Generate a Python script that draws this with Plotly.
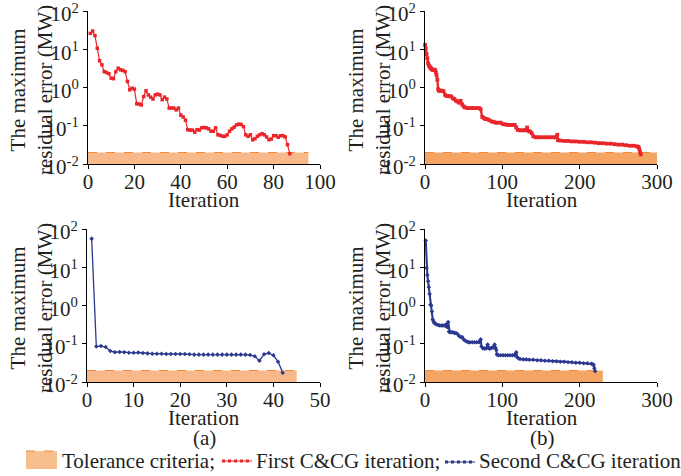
import plotly.graph_objects as go

# ---------------- data ----------------
# (a) first C&CG iteration
iter_a1 = list(range(1, 88))
err_a1 = [26, 30, 22.7, 10.6, 5.0, 3.9, 2.6, 2.45, 2.3, 1.75,
          1.7, 2.6, 3.2, 2.9, 2.8, 2.6, 1.44, 0.87, 0.96, 0.91,
          0.375, 0.37, 0.35, 0.58, 0.82, 0.64, 0.56, 0.5, 0.64, 0.67,
          0.64, 0.48, 0.56, 0.5, 0.29, 0.29, 0.29, 0.26, 0.29, 0.19,
          0.17, 0.14, 0.079, 0.077, 0.077, 0.068, 0.079, 0.077, 0.088, 0.09,
          0.088, 0.083, 0.072, 0.072, 0.088, 0.058, 0.056, 0.053, 0.053, 0.058,
          0.072, 0.083, 0.092, 0.105, 0.11, 0.108, 0.095, 0.058, 0.053, 0.058,
          0.043, 0.046, 0.053, 0.058, 0.062, 0.058, 0.051, 0.043, 0.045, 0.055,
          0.055, 0.05, 0.055, 0.055, 0.051, 0.032, 0.0186]

# (a) second C&CG iteration
iter_a2 = list(range(1, 43))
err_a2 = [56, 0.085, 0.087, 0.082, 0.065, 0.06, 0.061, 0.06, 0.058, 0.058,
          0.059, 0.057, 0.056, 0.055, 0.055, 0.055, 0.054, 0.054, 0.054, 0.054,
          0.054, 0.053, 0.052, 0.052, 0.052, 0.052, 0.052, 0.052, 0.052, 0.052,
          0.052, 0.052, 0.052, 0.052, 0.051, 0.047, 0.036, 0.053, 0.057, 0.05,
          0.034, 0.0175]

# (b) first C&CG iteration
iter_b1 = [0, 1, 2, 3, 4, 5, 6, 7, 8, 9,
           10, 11, 12, 13, 14, 15, 16, 17, 18, 19,
           20, 22, 24, 26, 28, 30, 32, 34, 36, 38,
           40, 42, 44, 46, 48, 50, 52, 55, 58, 61,
           64, 67, 70, 72, 74, 76, 78, 80, 83, 86,
           89, 92, 95, 98, 101, 104, 107, 110, 113, 116,
           118, 120, 123, 126, 129, 131, 132, 134, 136, 138,
           140, 143, 146, 150, 154, 158, 162, 166, 169, 171,
           172, 175, 180, 185, 190, 195, 200, 205, 210, 215,
           220, 225, 230, 235, 240, 245, 250, 255, 260, 265,
           270, 274, 276, 277, 278, 279]
err_b1 = [13, 10.6, 7.5, 5.8, 4.3, 3.8, 3.5, 3.3, 3.1, 3.0,
          2.9, 2.9, 2.9, 2.85, 2.5, 2.1, 1.6, 0.9, 0.83, 0.82,
          0.83, 0.82, 0.8, 0.64, 0.6, 0.6, 0.59, 0.58, 0.52, 0.5,
          0.45, 0.43, 0.4, 0.45, 0.36, 0.32, 0.3, 0.29, 0.29, 0.29,
          0.29, 0.29, 0.29, 0.27, 0.17, 0.16, 0.15, 0.15, 0.14, 0.13,
          0.125, 0.12, 0.12, 0.12, 0.11, 0.108, 0.105, 0.105, 0.105, 0.105,
          0.09, 0.078, 0.076, 0.076, 0.076, 0.078, 0.09, 0.073, 0.07, 0.064,
          0.053, 0.05, 0.05, 0.05, 0.05, 0.05, 0.05, 0.05, 0.05, 0.058,
          0.042, 0.041, 0.04, 0.04, 0.039, 0.039, 0.038, 0.038, 0.037, 0.037,
          0.036, 0.035, 0.035, 0.034, 0.034, 0.033, 0.032, 0.032, 0.031, 0.03,
          0.03, 0.029, 0.028, 0.025, 0.021, 0.0178]

# (b) second C&CG iteration
iter_b2 = [1, 2, 3, 4, 5, 6, 7, 8, 9, 10,
           11, 12, 13, 15, 17, 19, 21, 23, 25, 27,
           28, 29, 30, 31, 32, 34, 36, 38, 40, 42,
           44, 46, 48, 50, 52, 54, 56, 58, 61, 64,
           67, 70, 71, 72, 73, 75, 77, 79, 80, 81,
           82, 83, 84, 86, 88, 89, 90, 91, 92, 93,
           95, 98, 101, 104, 107, 110, 113, 116, 117, 118,
           119, 121, 123, 127, 131, 135, 140, 145, 150, 155,
           160, 165, 170, 175, 180, 185, 190, 195, 200, 205,
           210, 215, 217, 218, 219, 220]
err_b2 = [50, 9.6, 6.3, 4.3, 3.0, 2.0, 1.05, 1.0, 0.7, 0.43,
          0.38, 0.35, 0.34, 0.32, 0.31, 0.3, 0.3, 0.3, 0.3, 0.29,
          0.33, 0.27, 0.37, 0.21, 0.2, 0.2, 0.2, 0.19, 0.19, 0.18,
          0.16, 0.15, 0.15, 0.13, 0.12, 0.115, 0.11, 0.11, 0.11, 0.11,
          0.11, 0.11, 0.12, 0.13, 0.085, 0.075, 0.075, 0.075, 0.08, 0.095,
          0.08, 0.075, 0.075, 0.078, 0.08, 0.085, 0.095, 0.08, 0.07, 0.052,
          0.05, 0.05, 0.05, 0.05, 0.05, 0.05, 0.05, 0.05, 0.055, 0.06,
          0.045, 0.041, 0.04, 0.039, 0.039, 0.038, 0.038, 0.037, 0.037, 0.036,
          0.036, 0.035, 0.035, 0.034, 0.034, 0.033, 0.033, 0.032, 0.032, 0.031,
          0.031, 0.03, 0.029, 0.028, 0.023, 0.019]

assert len(iter_a1) == len(err_a1)
assert len(iter_a2) == len(err_a2)
assert len(iter_b1) == len(err_b1)
assert len(iter_b2) == len(err_b2)

tol_value = 0.02
axis_floor = 0.01
# panel order: (a)-first, (b)-first, (a)-second, (b)-second
tol_extent = [95, 300, 45, 230]
x_max = [100, 300, 50, 300]
x_ticks = [[0, 20, 40, 60, 80, 100], [0, 100, 200, 300],
           [0, 10, 20, 30, 40, 50], [0, 100, 200, 300]]
y_tickvals = [0.01, 0.1, 1, 10, 100]
y_ticktext = ["10<sup>-2</sup>", "10<sup>-1</sup>", "10<sup>0</sup>",
              "10<sup>1</sup>", "10<sup>2</sup>"]

legend_names = ["Tolerance criteria;", "First C&CG iteration;", "Second C&CG iteration"]
panel_labels = ["(a)", "(b)"]

# ---------------- styling ----------------
W, H = 681, 476
FONT = "Liberation Serif, Times New Roman, serif"
TXT = "#231f20"
RED = "#e8262a"
BLUE = "#2b3990"
BAND_L = "#f8b98a"
BAND_R = "#f5a563"
DASH = "#f08a3c"
FS = 21

def px_x(p):
    return p / W

def px_y(p):
    return 1 - p / H

# pixel boxes of the four plot areas: (left, right, top, bottom)
boxes = [(88, 320, 11, 164), (425, 657, 11, 164),
         (87, 320, 229, 382), (425, 657, 229, 382)]

series = [(iter_a1, err_a1, RED, "square", 3.5, 1.2),
          (iter_b1, err_b1, RED, "square", 3.8, 2.3),
          (iter_a2, err_a2, BLUE, "diamond", 3.5, 1.3),
          (iter_b2, err_b2, BLUE, "diamond", 3.5, 2.1)]
band_cols = [BAND_L, BAND_R, BAND_L, BAND_R]

fig = go.Figure()
layout = dict(width=W, height=H, margin=dict(l=0, r=0, t=0, b=0, autoexpand=False),
              paper_bgcolor="white", plot_bgcolor="white",
              showlegend=False, font=dict(family=FONT, size=FS, color=TXT))

for i in range(4):
    n = "" if i == 0 else str(i + 1)
    xa, ya = "x" + n, "y" + n
    # tolerance band
    fig.add_trace(go.Scatter(x=[0, tol_extent[i]], y=[axis_floor, axis_floor],
                             mode="lines", line=dict(width=0, color=band_cols[i]),
                             xaxis=xa, yaxis=ya, hoverinfo="skip"))
    fig.add_trace(go.Scatter(x=[0, tol_extent[i]], y=[tol_value, tol_value],
                             mode="lines", fill="tonexty", fillcolor=band_cols[i],
                             line=dict(width=1, color=DASH, dash="dash"),
                             xaxis=xa, yaxis=ya, name=legend_names[0]))
    xs, ys, col, sym, ms, lw = series[i]
    fig.add_trace(go.Scatter(x=xs, y=ys, mode="lines+markers",
                             line=dict(color=col, width=lw),
                             marker=dict(symbol=sym, size=ms, color=col),
                             xaxis=xa, yaxis=ya, cliponaxis=False))
    l, r, t, b = boxes[i]
    layout["xaxis" + n] = dict(domain=[px_x(l), px_x(r)], range=[0, x_max[i]],
                               anchor=ya, tickvals=x_ticks[i], showgrid=False,
                               zeroline=False, showline=True, linecolor="black",
                               linewidth=1, ticks="outside", ticklen=4, automargin=False,
                               ticklabelstandoff=-5, ticklabeloverflow="allow",
                               tickcolor="black", tickfont=dict(family=FONT, size=FS, color=TXT))
    layout["yaxis" + n] = dict(domain=[px_y(b), px_y(t)], type="log", range=[-2, 2],
                               anchor=xa, tickvals=y_tickvals, ticktext=y_ticktext,
                               showgrid=False, zeroline=False, showline=True,
                               linecolor="black", linewidth=1, ticks="outside",
                               ticklen=4, tickcolor="black", automargin=False,
                               ticklabeloverflow="allow", ticklabelshift=3,
                               tickfont=dict(family=FONT, size=FS, color=TXT))

annotations = []
ytitle_x = [31, 369, 31, 369]
ytitle_y = [90, 90, 308, 308]
iter_x = [204, 542, 204, 542]
iter_y = [200, 200, 418, 418]
for i in range(4):
    annotations.append(dict(text="The maximum<br>residual error (MW)", textangle=-90,
                            x=px_x(ytitle_x[i]), y=px_y(ytitle_y[i]), xref="paper", yref="paper",
                            xanchor="center", yanchor="middle", showarrow=False,
                            font=dict(family=FONT, size=FS, color=TXT)))
    annotations.append(dict(text="Iteration", x=px_x(iter_x[i]), y=px_y(iter_y[i]),
                            xref="paper", yref="paper", xanchor="center", yanchor="middle",
                            showarrow=False, font=dict(family=FONT, size=FS, color=TXT)))
for lab, cx in zip(panel_labels, [204, 542]):
    annotations.append(dict(text=lab, x=px_x(cx), y=px_y(438), xref="paper", yref="paper",
                            xanchor="center", yanchor="middle", showarrow=False,
                            font=dict(family=FONT, size=FS, color=TXT)))

# legend (manual)
LEG_Y = 461
shapes = [
    dict(type="rect", xref="paper", yref="paper", x0=px_x(26), x1=px_x(57),
         y0=px_y(469), y1=px_y(451), fillcolor="#f8bf8e", line=dict(width=0)),
    dict(type="line", xref="paper", yref="paper", x0=px_x(26), x1=px_x(57),
         y0=px_y(451), y1=px_y(451), line=dict(color=DASH, width=1, dash="dash")),
    dict(type="line", xref="paper", yref="paper", x0=px_x(222), x1=px_x(252),
         y0=px_y(LEG_Y), y1=px_y(LEG_Y), line=dict(color=RED, width=1)),
    dict(type="line", xref="paper", yref="paper", x0=px_x(222), x1=px_x(252),
         y0=px_y(LEG_Y), y1=px_y(LEG_Y), line=dict(color=RED, width=3, dash="dot")),
    dict(type="line", xref="paper", yref="paper", x0=px_x(445), x1=px_x(475),
         y0=px_y(LEG_Y + 1), y1=px_y(LEG_Y + 1), line=dict(color=BLUE, width=1)),
    dict(type="line", xref="paper", yref="paper", x0=px_x(445), x1=px_x(475),
         y0=px_y(LEG_Y + 1), y1=px_y(LEG_Y + 1), line=dict(color=BLUE, width=3, dash="dot")),
]
for name, lx in zip(legend_names, [60, 254, 477]):
    annotations.append(dict(text=name, x=px_x(lx), y=px_y(LEG_Y), xref="paper", yref="paper",
                            xanchor="left", yanchor="middle", showarrow=False,
                            font=dict(family=FONT, size=FS, color=TXT)))

layout["annotations"] = annotations
layout["shapes"] = shapes
fig.update_layout(**layout)
fig.write_html("out.html", config={"displayModeBar": False},
               post_script="document.body.style.margin='0';document.body.style.padding='0';")
